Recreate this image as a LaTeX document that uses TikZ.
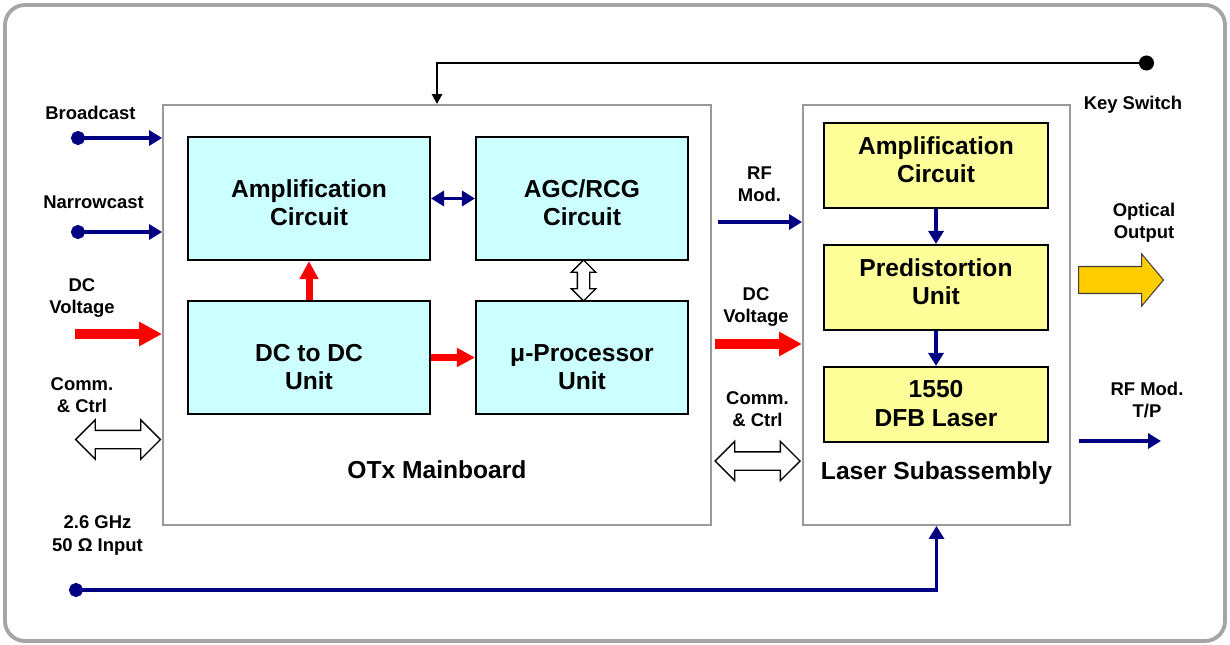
\documentclass[tikz,border=0pt]{standalone}
\usepackage{fontspec}
\setmainfont{Liberation Sans}
\usetikzlibrary{arrows.meta,shapes.arrows}

\definecolor{navyblue}{HTML}{000080}
\definecolor{boxcyan}{HTML}{CCFFFF}
\definecolor{boxyellow}{HTML}{FFFF99}
\definecolor{framegray}{HTML}{A6A6A6}
\definecolor{boardgray}{HTML}{999999}
\definecolor{optyellow}{HTML}{FFCC00}

\tikzset{
  bigtext/.style={font=\fontsize{14}{16}\selectfont\bfseries, align=center},
  smalltext/.style={font=\fontsize{10.5}{12.6}\selectfont\bfseries, align=center},
  cyanbox/.style={draw, line width=1.2pt, fill=boxcyan, inner sep=0pt},
  yellowbox/.style={draw, line width=1.2pt, fill=boxyellow, inner sep=0pt},
  boardbox/.style={draw=boardgray, line width=1.1pt, fill=white, inner sep=0pt},
  navyarrow/.style={navyblue, line width=2.2pt, -{Triangle[width=0.3cm,length=0.26cm]}},
  navyfeed/.style={navyarrow, {Circle[length=0.28cm]}-{Triangle[width=0.3cm,length=0.26cm]}},
  redarrow/.style={red, line width=0.2cm, -{Triangle[width=0.46cm,length=0.46cm]}},
  smallred/.style={red, line width=0.14cm, -{Triangle[width=0.36cm,length=0.36cm]}},
  hollowarrow/.style={double arrow, draw, line width=0.8pt, fill=white,
    inner xsep=0pt, inner ysep=0.17cm, double arrow head extend=0.21cm, double arrow tip angle=90},
}

\begin{document}
\begin{tikzpicture}[x=0.02cm, y=-0.02cm]
\useasboundingbox (0,0) rectangle (1230,645);
\draw[framegray, line width=2.2pt, rounded corners=0.4cm] (5,5) rectangle (1225,641);

% boards
\node[boardbox, minimum width=10.96cm, minimum height=8.4cm] (main) at (437,315) {};
\node[boardbox, minimum width=5.34cm, minimum height=8.4cm] (laser) at (936.5,315) {};
\node[bigtext] (mainlabel) at (437,470) {OTx Mainboard};
\node[bigtext] (laserlabel) at (936.5,473) {Laser Subassembly};

% mainboard blocks
\node[cyanbox, minimum width=4.84cm, minimum height=2.46cm] (amp) at (309,198.5) {};
\node[cyanbox, minimum width=4.24cm, minimum height=2.46cm] (agc) at (582,198.5) {};
\node[cyanbox, minimum width=4.84cm, minimum height=2.26cm] (dcdc) at (309,357.5) {};
\node[cyanbox, minimum width=4.24cm, minimum height=2.26cm] (mproc) at (582,357.5) {};
\node[bigtext] (amptext) at (309,203) {Amplification\\Circuit};
\node[bigtext] (agctext) at (582,202.5) {AGC/RCG\\Circuit};
\node[bigtext] (dcdctext) at (309,367) {DC to DC\\Unit};
\node[bigtext] (mproctext) at (582,367) {μ-Processor\\Unit};

% laser blocks
\node[yellowbox, minimum width=4.48cm, minimum height=1.7cm] (lamp) at (936,165.5) {};
\node[yellowbox, minimum width=4.48cm, minimum height=1.7cm] (pred) at (936,287.5) {};
\node[yellowbox, minimum width=4.48cm, minimum height=1.5cm] (dfb) at (936,404.5) {};
\node[bigtext] (lamptext) at (936,159.5) {Amplification\\Circuit};
\node[bigtext] (predtext) at (936,281.5) {Predistortion\\Unit};
\node[bigtext, font=\fontsize{14}{17}\selectfont\bfseries] (dfbtext) at (936,403.5) {1550\\DFB Laser};

% inner links
\draw[navyarrow, {Triangle[width=0.3cm,length=0.26cm]}-{Triangle[width=0.3cm,length=0.26cm]}] (amp) -- (agc);
\draw[smallred] (dcdc) -- (amp);
\draw[smallred] (dcdc) -- (mproc);
\draw[navyarrow] (lamp) -- (pred);
\draw[navyarrow] (pred) -- (dfb);
\node[hollowarrow, rotate=90, inner ysep=0.11cm, double arrow head extend=0.12cm,
  minimum height=0.82cm] (agcbus) at (583.5,280.5) {};

% left inputs
\node[smalltext] (bclabel) at (90.5,113) {Broadcast};
\node[smalltext] (nclabel) at (93.5,202) {Narrowcast};
\node[smalltext] (dclabel) at (82,298) {DC\\Voltage};
\node[smalltext] (cclabel) at (82,395.5) {Comm.\\\& Ctrl};
\node[smalltext] (rflabel) at (97.5,535.5) {2.6 GHz\\50 Ω Input};
\coordinate (bcin) at (71,138);
\coordinate (ncin) at (71,232);
\coordinate (dcin) at (75,334);
\coordinate (rfin) at (69,590);
\draw[navyfeed] (bcin) -- (bcin -| main.west);
\draw[navyfeed] (ncin) -- (ncin -| main.west);
\draw[redarrow] (dcin) -- (dcin -| main.west);
\node[hollowarrow, minimum height=1.7cm] (ccin) at (118,439.5) {};
\draw[navyfeed] (rfin) -| (laser.south);

% key switch
\coordinate (keysw) at (1154,63);
\node[smalltext] (kslabel) at (1133,105) {Key Switch};
\draw[line width=1.6pt, {Circle[length=0.3cm]}-{Triangle[width=0.2cm,length=0.2cm]}] (keysw) -| (main.north);

% board to laser
\node[smalltext] (rfmlabel) at (759.5,184.5) {RF\\Mod.};
\node[smalltext] (dcvlabel) at (756,307) {DC\\Voltage};
\node[smalltext] (cc2label) at (757.5,409) {Comm.\\\& Ctrl};
\coordinate (rfmod) at (718,222);
\coordinate (dcv) at (715,344);
\draw[navyarrow] (rfmod) -- (rfmod -| laser.west);
\draw[redarrow] (dcv) -- (dcv -| laser.west);
\node[hollowarrow, minimum height=1.7cm] (ccbus) at (757.5,461) {};

% outputs
\node[smalltext] (optlabel) at (1144,223) {Optical\\Output};
\node[single arrow, draw=black!75, line width=0.6pt, fill=optyellow, inner xsep=0pt, inner ysep=0.26cm,
  single arrow head extend=0.25cm, single arrow tip angle=100,
  minimum height=1.7cm, anchor=tail] (optout) at (1078,280) {};
\node[smalltext] (tplabel) at (1147,400) {RF Mod.\\T/P};
\coordinate (tpout) at (1079,441);
\coordinate (tpend) at (1161,441);
\draw[navyarrow] (tpout) -- (tpend);
\end{tikzpicture}
\end{document}
